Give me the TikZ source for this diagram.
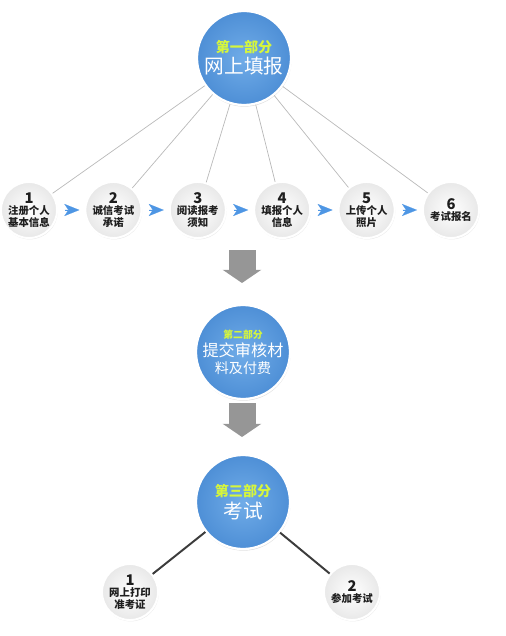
\documentclass[tikz,border=0pt]{standalone}
\usepackage{fontspec}
\setmainfont{Noto Sans CJK SC}
\usepackage{xcolor}
\usepackage{tikz}
\usetikzlibrary{shapes.geometric, arrows.meta, positioning, shadows, calc}
\definecolor{partBlue}{RGB}{112, 172, 232}
\definecolor{partRim}{RGB}{78, 143, 214}
\definecolor{tagGreen}{RGB}{214, 246, 60}
\definecolor{stepBlue}{RGB}{78, 150, 228}
\definecolor{blockGray}{RGB}{150, 150, 150}
\definecolor{spokeGray}{RGB}{185, 185, 185}
\definecolor{linkGray}{RGB}{60, 60, 60}
\definecolor{stepText}{RGB}{30, 30, 30}
\newcommand{\parttag}[2]{{\color{tagGreen}\bfseries\fontsize{#2}{#2}\selectfont #1}}

\begin{document}
\begin{tikzpicture}[x=0.025cm, y=-0.025cm,
				part_circ/.style   = {circle, draw=white, line width=1.6pt, inner color=partBlue,
					outer color=partRim, minimum size=2.35cm, inner sep=0pt, align=center, text=white,
					drop shadow={opacity=0.25, shadow xshift=0.4pt, shadow yshift=-1.2pt}},
				step_circ/.style   = {circle, draw=white, line width=1.4pt, inner color=white,
					outer color=black!9, minimum size=1.4cm, inner sep=0pt, align=center, text=stepText,
					font=\bfseries\fontsize{7.4}{8.2}\selectfont,
					drop shadow={opacity=0.16, shadow xshift=0.5pt, shadow yshift=-1pt}},
				spoke/.style       = {draw=spokeGray, line width=0.5pt},
				link/.style        = {draw=linkGray, line width=1.4pt},
				flow_tip/.style    = {-{Stealth[length=0.375cm, width=0.3cm, inset=0.1cm]}, draw=stepBlue,
					fill=stepBlue, line width=0.1pt, shorten <=0.175cm, shorten >=0.125cm},
				block_arrow/.style = {-{Triangle[length=0.33cm, width=0.95cm]}, draw=blockGray,
					line width=0.675cm}
				]
				\useasboundingbox (0,0) rectangle (505,636);
				
				\node[part_circ] (p1) at (244, 58)
				{\parttag{第一部分}{10}\\[1pt]\fontsize{14}{15}\selectfont 网上填报};
				
				\node[step_circ] (s1) at (29, 210)    {{\fontsize{10.5}{10.5}\selectfont 1}\\注册个人\\基本信息};
				\node[step_circ] (s2) at (113.4, 210) {{\fontsize{10.5}{10.5}\selectfont 2}\\诚信考试\\承诺};
				\node[step_circ] (s3) at (197.8, 210) {{\fontsize{10.5}{10.5}\selectfont 3}\\阅读报考\\须知};
				\node[step_circ] (s4) at (282.2, 210) {{\fontsize{10.5}{10.5}\selectfont 4}\\填报个人\\信息};
				\node[step_circ] (s5) at (366.6, 210) {{\fontsize{10.5}{10.5}\selectfont 5}\\上传个人\\照片};
				\node[step_circ] (s6) at (451, 210)   {{\fontsize{10.5}{10.5}\selectfont 6}\\考试报名};
				
				\draw[spoke] (p1) -- (s1);
				\draw[spoke] (p1) -- (s2);
				\draw[spoke] (p1) -- (s3);
				\draw[spoke] (p1) -- (s4);
				\draw[spoke] (p1) -- (s5);
				\draw[spoke] (p1) -- (s6);
				
				\draw[flow_tip] (s1) -- (s2);
				\draw[flow_tip] (s2) -- (s3);
				\draw[flow_tip] (s3) -- (s4);
				\draw[flow_tip] (s4) -- (s5);
				\draw[flow_tip] (s5) -- (s6);
				
				\node[part_circ] (p2) at (243, 352)
				{\parttag{第二部分}{7}\\[1pt]\fontsize{11.5}{13.5}\selectfont 提交审核材\\料及付费};
				
				\coordinate (down1_top) at (242, 250);
				\coordinate (down1_tip) at (242, 283);
				\draw[block_arrow] (down1_top) -- (down1_tip);
				
				\node[part_circ] (p3) at (243, 502)
				{\parttag{第三部分}{10}\\[2pt]\fontsize{14}{15}\selectfont 考试};
				
				\coordinate (down2_top) at (242, 403);
				\coordinate (down2_tip) at (242, 437);
				\draw[block_arrow] (down2_top) -- (down2_tip);
				
				\node[step_circ] (e1) at (130, 592) {{\fontsize{10.5}{10.5}\selectfont 1}\\网上打印\\准考证};
				\node[step_circ] (e2) at (352, 592) {{\fontsize{10.5}{10.5}\selectfont 2}\\参加考试};
				
				\draw[link] (p3) -- (e1);
				\draw[link] (p3) -- (e2);
			\end{tikzpicture}
\end{document}
